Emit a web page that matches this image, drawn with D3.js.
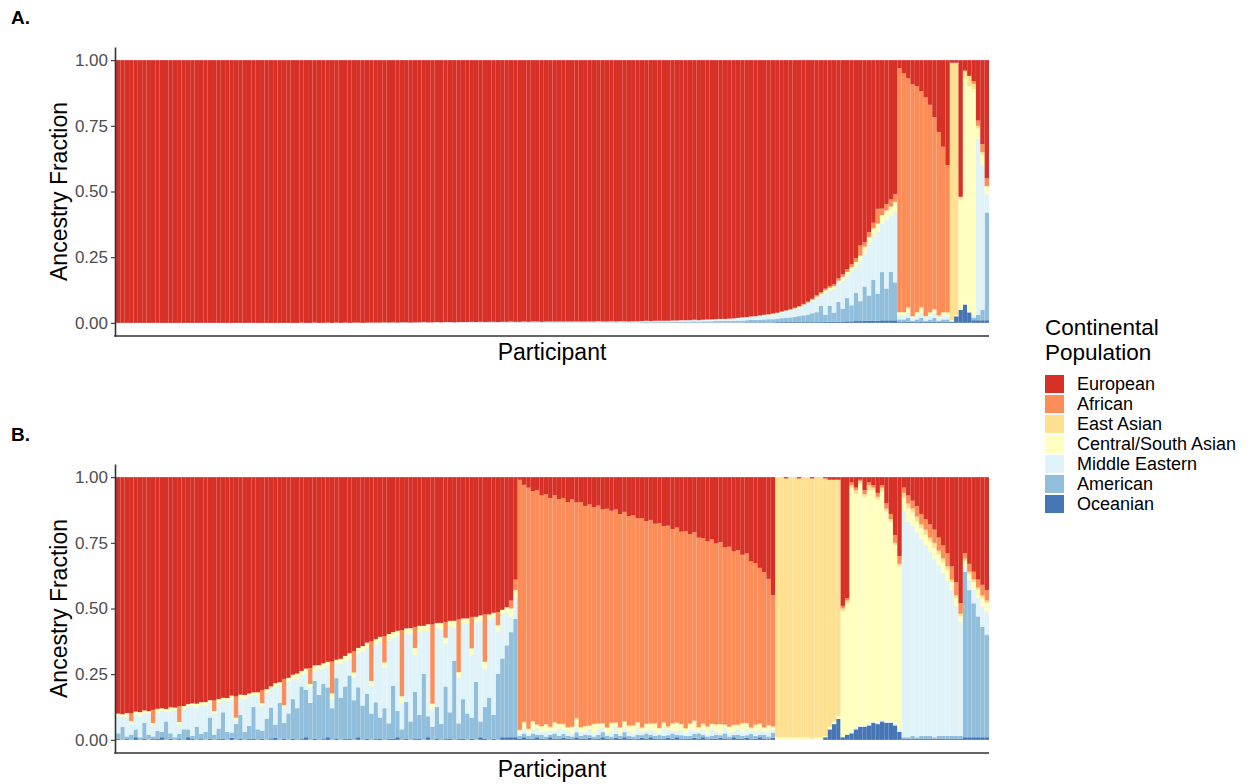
<!DOCTYPE html>
<html><head><meta charset="utf-8">
<script src="https://cdn.jsdelivr.net/npm/d3@7"></script>
<style>
html,body{margin:0;padding:0;background:#fff;}
text{font-family:"Liberation Sans",Arial,Helvetica,sans-serif;}
</style></head>
<body><svg id="chart" width="1253" height="784"></svg>
<script>
// ---------- DATA (percent of ancestry per participant) ----------
const populations = ["European","African","East Asian","Central/South Asian","Middle Eastern","American","Oceanian"];
const popColors = ["#d73027","#fc8d59","#fee090","#ffffbf","#e0f3f8","#91bfdb","#4575b4"];
const yTicks = [0, 0.25, 0.5, 0.75, 1];
const panelLabels = ["A.", "B."];

// Panel A
const aEuropean = [
100,100,100,100,100,100,100,100,100,100,100,100,100,100,100,100,100,100,100,100,
100,100,100,100,100,100,100,100,100,100,100,100,100,100,100,100,100,100,100,100,
100,100,99.9,100,100,99.9,100,100,99.9,100,99.9,100,99.9,100,99.9,99.9,100,99.9,99.9,99.9,
99.9,99.8,99.9,99.8,99.9,99.8,99.8,99.9,99.8,99.8,99.7,99.8,99.8,99.7,99.8,99.7,99.7,99.8,99.7,99.7,
99.7,99.6,99.7,99.6,99.7,99.6,99.6,99.7,99.6,99.6,99.5,99.6,99.6,99.5,99.6,99.5,99.5,99.6,99.5,99.5,
99.5,99.4,99.5,99.4,99.5,99.4,99.4,99.5,99.4,99.4,99.3,99.4,99.4,99.3,99.4,99.3,99.3,99.4,99.3,99.3,
99.3,99.2,99.3,99.2,99.2,99.1,99.2,99.1,99.1,99.0,99.1,99.0,98.9,99.0,98.9,98.8,98.8,98.7,98.6,98.6,
98.5,98.4,98.3,98.2,98.1,97.9,97.8,97.6,97.4,97.2,97.0,96.7,96.4,96.0,95.6,95.1,94.5,93.8,93.0,92.0,
90.5,89.4,88.3,87.4,86.5,84.9,83.1,81.0,79.0,77.0,74.3,71.5,67.8,64.0,60.5,58.5,56.5,54.8,53.0,3,
5,7,9,10,12,14,17,22,27,33,40,1,1,52,4,6,8,23,32,45];
const aAfrican = [
0,0,0,0,0,0,0,0,0,0,0,0,0,0,0,0,0,0,0,0,
0,0,0,0,0,0,0,0,0,0,0,0,0,0,0,0,0,0,0,0,
0,0,0,0,0,0,0,0,0,0,0,0,0,0,0,0,0,0,0,0,
0,0,0,0,0,0,0,0,0,0,0,0,0,0,0,0,0,0,0,0,
0,0,0,0,0,0,0,0,0,0,0,0,0,0,0,0,0,0,0,0,
0,0,0,0,0,0,0,0,0,0,0,0,0,0,0,0,0,0,0,0,
0,0,0,0,0,0,0,0,0,0,0,0,0,0,0,0,0,0,0,0,
0,0,0,.1,0,.1,.1,0,.1,.1,.2,.1,.2,.2,.3,.2,.3,.3,.4,.4,
.5,.6,.6,.7,.8,.9,1,1.1,1.2,1.4,4,1.7,2,2.2,6,2.5,2.6,2.8,3,92,
90,88,86,86,83,82,79,74,69,63,56,0,0,0,0,0,1,2,3,3];
const aEastAsian = [
0,0,0,0,0,0,0,0,0,0,0,0,0,0,0,0,0,0,0,0,
0,0,0,0,0,0,0,0,0,0,0,0,0,0,0,0,0,0,0,0,
0,0,0,0,0,0,0,0,0,0,0,0,0,0,0,0,0,0,0,0,
0,0,0,0,0,0,0,0,0,0,0,0,0,0,0,0,0,0,0,0,
0,0,0,0,0,0,0,0,0,0,0,0,0,0,0,0,0,0,0,0,
0,0,0,0,0,0,0,0,0,0,0,0,0,0,0,0,0,0,0,0,
0,0,0,0,0,0,0,0,0,0,0,0,0,0,0,0,0,0,0,0,
0,0,0,0,0,0,0,0,0,0,0,0,0,0,0,0,0,0,0,0,
0,0,0,0,0,0,0,0,0,0,0,0,0,0,0,0,0,0,0,.3,
.3,.5,.2,.3,.5,.3,.2,.3,.5,.3,.3,98,96,1,3,4,2,1,1,0];
const aCentralSouthAsian = [
0,0,0,0,0,0,0,0,0,0,0,0,0,0,0,0,0,0,0,0,
0,0,0,0,0,0,0,0,0,0,0,0,0,0,0,0,0,0,0,0,
0,0,0,0,0,0,0,0,0,0,0,0,0,0,0,0,0,0,0,0,
0,0,0,0,0,0,0,0,0,0,0,0,0,0,0,0,0,0,0,0,
0,0,0,0,0,0,0,0,0,0,0,0,0,0,0,0,0,0,0,0,
0,0,0,0,0,0,0,0,0,0,0,0,0,0,0,0,0,0,0,0,
0,0,0,0,0,0,0,0,0,0,0,0,0,0,0,0,0,0,0,0,
0,0,.1,.1,.1,.1,.1,.2,.2,.2,.2,.2,.3,.3,.3,.4,.4,.5,.5,.6,
.7,.8,.9,1,1.1,1.2,1.4,1.6,1.8,2,2.3,2.6,3,3.3,3.5,3.5,3.6,3.7,3.8,1,
1,1.5,.5,1,1.5,.5,1,1,.5,1,1,.5,.5,42,86,86,86,4,4,3];
const aMiddleEastern = [
0,0,0,0,0,0,0,0,0,0,0,0,0,0,0,0,0,0,0,0,
0,0,0,0,0,0,0,0,0,0,0,0,0,0,0,0,0,0,0,0,
0,0,.1,0,0,.1,0,0,.1,0,.1,0,.1,0,.1,.1,0,.1,.1,.1,
.1,.1,.1,.1,.1,.1,.1,.1,.1,.1,.2,.1,.1,.2,.1,.2,.2,.1,.2,.2,
.2,.2,.2,.2,.2,.2,.2,.2,.2,.2,.3,.2,.2,.3,.2,.3,.3,.2,.3,.3,
.3,.3,.3,.3,.3,.3,.3,.3,.3,.3,.4,.3,.3,.4,.3,.4,.4,.3,.4,.4,
.4,.5,.4,.5,.5,.5,.5,.5,.5,.6,.5,.6,.6,.6,.6,.7,.7,.7,.8,.8,
.9,.9,1.0,1.1,1.1,1.2,1.3,1.4,1.5,1.6,1.8,2.0,2.1,2.4,2.6,2.9,3.2,3.6,4.1,4.6,
5.3,4,8.5,6,9,7,11,8.5,13,10,16,13,20,17,25,19,27,22,28,1.5,
1.5,2,1,1.5,2,1,1.5,2,1,1.5,1.5,0,0,0,0,0,1,67,55,7];
const aAmerican = [
0,0,0,0,0,0,0,0,0,0,0,0,0,0,0,0,0,0,0,0,
0,0,0,0,0,0,0,0,0,0,0,0,0,0,0,0,0,0,0,0,
0,0,0,0,0,0,0,0,0,0,0,0,0,0,0,0,0,0,0,0,
0,.1,0,.1,0,.1,.1,0,.1,.1,.1,.1,.1,.1,.1,.1,.1,.1,.1,.1,
.1,.2,.1,.2,.1,.2,.2,.1,.2,.2,.2,.2,.2,.2,.2,.2,.2,.2,.2,.2,
.2,.2,.2,.2,.2,.2,.2,.2,.2,.2,.2,.2,.2,.2,.2,.2,.2,.2,.2,.2,
.3,.3,.3,.3,.3,.3,.3,.4,.4,.4,.4,.4,.5,.4,.5,.5,.5,.6,.6,.6,
.6,.7,.7,.7,.8,.9,.9,1,1.1,1.2,1.2,1.3,1.5,1.6,1.8,2,2.3,2.6,2.9,3.4,
3.8,6.2,2.8,6.2,3.6,7.7,5,9,6.2,11,8,13.5,10,16,11,19,12.5,19,15,1,
1,1.5,.5,1,1.5,.5,1,1.5,.5,1,1,0,0,0,0,0,1,2,4,41];
const aOceanian = [
0,0,0,0,0,0,0,0,0,0,0,0,0,0,0,0,0,0,0,0,
0,0,0,0,0,0,0,0,0,0,0,0,0,0,0,0,0,0,0,0,
0,0,0,0,0,0,0,0,0,0,0,0,0,0,0,0,0,0,0,0,
0,0,0,0,0,0,0,0,0,0,0,0,0,0,0,0,0,0,0,0,
0,0,0,0,0,0,0,0,0,0,0,0,0,0,0,0,0,0,0,0,
0,0,0,0,0,0,0,0,0,0,0,0,0,0,0,0,0,0,0,0,
0,0,0,0,0,0,0,0,0,0,.1,0,.1,0,.1,.1,.1,.1,.1,.1,
.1,.1,.1,.1,.2,.2,.2,.2,.2,.2,.2,.3,.3,.3,.3,.3,.3,.3,.3,.3,
.3,.3,.4,.4,.4,.5,.5,.6,.6,.7,.7,.8,.8,.9,.9,1,1,1,1,.3,
.3,.5,.3,.3,.5,.3,.3,.5,.3,.3,.3,.5,2.5,5,7,4,1,1,1,1];

// Panel B
const bEuropean = [
90,89.8,89.6,89.4,89.2,89,88.8,88.6,88.4,88.2,88,87.8,87.6,87.3,87,86.7,86.4,86.1,85.8,85.5,
85.2,84.9,84.6,84.3,84,83.7,83.4,83.1,82.8,82.5,82.2,81.9,81.5,81,80.3,79.5,78.6,77.7,76.8,76,
75.2,74.4,73.6,72.9,72.3,71.7,71.2,70.7,70.3,69.9,69.5,68.8,67.9,67,66,65,64,63,62.2,61.5,
60.8,60.2,59.6,59,58.5,58,57.6,57.2,56.9,56.6,56.3,56,55.8,55.5,55.2,55,54.7,54.4,54.1,53.8,
53.5,53.2,52.9,52.6,52.3,52,51.6,51.1,50.5,49.5,47,39,1,3,4,5.5,5,7,6.5,8,
7,8.5,8,9.5,8.5,10,9.5,11,10.5,11.5,11,12.5,12,13,12.5,14,13.5,15,14.5,16,
15.5,17,16.5,18,17.5,19,18.5,20,19.5,21,20.5,22,21.5,23,23.5,24.5,24,25.5,25,27,
26.5,28.5,28,30,29.5,32,33,35,36,39,45,0,0,.5,0,0,.5,0,0,.5,
0,0,.5,1,1,1,49,46,2,4,1,5,2,3,6,3,10,14,22,30,
4,7,9,11,14,16,18,20,23,26,29,34,40,48,29,33,36,39,41,43];
const bAfrican = [
0,0,0,3,0,0,0,0,5,0,0,0,0,0,6,0,0,0,0,0,
0,0,4,0,0,0,0,8,0,0,0,0,0,5,0,0,0,0,10,0,
0,0,0,0,6,0,0,0,0,12,0,0,0,0,8,0,0,0,15,0,
0,10,0,0,0,25,0,0,8,0,0,0,30,0,0,6,0,0,20,0,
0,12,0,0,18,0,0,5,0,0,3,4,94,92,91,89.5,90,88,88.5,87,
88,86.5,87,85.5,86.5,85,85.5,84,84.5,83.5,84,82.5,83,82,82.5,81,81.5,80,80.5,79,
79.5,78,78.5,77,77.5,76,76.5,75,75.5,74,74.5,73,73.5,72,71.5,70.5,71,69.5,70,68,
68.5,66.5,67,65,65.5,63,62,60,59,56,50,0,0,0,0,0,0,0,0,0,
0,0,0,0,0,0,1,1,1,1,.5,1.5,1,1,1.5,1,2,2,3,3,
2,3,3,4,4,4,5,5,5,5,5,5,5,4,2,3,3,3,4,4];
const bEastAsian = [
0,0,0,0,0,0,0,0,0,0,0,0,0,0,0,0,0,0,0,0,
0,0,0,0,0,0,0,0,0,0,0,0,0,0,0,0,0,0,0,0,
0,0,0,0,0,0,0,0,0,0,0,0,0,0,0,0,0,0,0,0,
0,0,0,0,0,0,0,0,0,0,0,0,0,0,0,0,0,0,0,0,
0,0,0,0,0,0,0,0,0,0,0,0,.3,.5,.2,.3,.4,.2,.3,.5,
.3,.2,.4,.3,.2,.5,.3,.3,.2,.4,.3,.5,.2,.3,.4,.3,.2,.5,.3,.3,
.4,.2,.3,.5,.2,.3,.4,.3,.2,.3,.5,.3,.2,.4,.3,.3,.2,.5,.3,.4,
.2,.3,.3,.5,.2,.4,.3,.3,.2,.4,.3,99,99,98.5,99,99,98.5,99,99,98.5,
99,98.5,98,94,92,90,1,1,1,1.5,1,1,2,1,1,1.5,1,1,1,1,
2,2,1.5,2,1.5,2,1.5,2,1.5,1.5,1.5,1,1,1,1,1,1,1,1,1];
const bCentralSouthAsian = [
1,1,1.5,1,1,1.5,1,1,1,1.5,1,1,1.5,1,1,1.5,1,1,1.5,1,
1.5,1,1,1.5,1,1,1.5,1,1,1.5,1,1,1.5,1,1.5,1,1.5,1,1,1.5,
1.5,2,1.5,2,1.5,2,1.5,2,1.5,2,1.5,2,2,2,2,2,2,2,2,2,
2,2,2.5,2,2,2.5,2,2,2.5,2,2,2.5,2,2,2.5,2,2,2.5,2,2,
2,2.5,2,2,2.5,2,2,2.5,2,2,3,3,1,2,1.5,3,1,2,2.5,1,
3,1.5,2,1,2.5,3,1.5,2,1,3.5,2,1.5,2,3,1,2,2.5,1.5,3,2,
1,2.5,2,3,1.5,2,1,2.5,3,2,1.5,2,3.5,1,2,2.5,1.5,2,3,1,
2,2.5,1.5,3,2,1,2,2.5,1.5,2,1,1,1,1,1,1,1,1,1,.5,
1,1,.5,1,1,1,48,50,93,89,92,87,89,88,85,87,80,76,68,62,
5,5,5,4,4,4,4,4,4,4,4,3,3,2,2,2,3,3,3,3];
const bMiddleEastern = [
6.5,3.7,7.4,4.1,5.8,8,3.7,7.9,4.1,6.8,8,3.7,8.4,10.2,3.5,7.3,8.6,11.4,7.2,11,
9.8,5.6,7.9,9.7,4.5,11.8,12.6,1.4,6.7,12.5,11.3,4.6,12.5,9.5,9.7,7,14.4,6.8,5.7,12,
7.8,11.1,4.4,6.1,5.7,3.8,9.8,5.8,8.2,3.6,5.5,12.7,9.6,6.5,8.5,13,20.5,17.5,10.3,22,
28.7,15.3,31.4,18.5,28.5,10,25.9,33.3,14.1,31.9,16.2,32.5,6.7,30,35.8,16.5,32.8,12.6,17.4,28.7,
34,23.8,22.6,38.4,14.7,29.5,36.9,15.9,16.5,12.5,6,8,1,2,1,1.5,2.5,1,2,1.5,
1,3,1.5,2,1,2,1.5,1,2.5,1,2,1.5,1,2,3,1,1.5,2,1,2.5,
1.5,1,2,1.5,1,3,2,1,1.5,2,1,2.5,1.5,1,2,1,3,1.5,1,2,
1.5,1,2,1.5,2.5,1,2,1.5,1,2,1,0,0,0,0,0,0,0,0,0,
0,0,0,0,0,0,0,0,.5,.5,.5,.5,.5,.5,.5,.5,.5,.5,.5,1,
86,82,80,78,75,72.5,70,68,65,62,59,55.5,49.5,43.5,2,4,5,7,8,9];
const bAmerican = [
2,5,1,2,3,1,6,2,1,3,2,7,2,1,2,4,3,1,5,2,
3,8,2,4,10,3,2,6,9,3,5,12,4,3,8,12,5,14,6,10,
15,12,20,18,14,22,17,21,19,12,23,16,20,24,15,19,13,17,10,14,
8,12,6,20,10,4,14,7,18,9,25,8,5,12,6,20,10,30,6,15,
10,8,22,6,12,16,9,25,30,35,40,45,1,1.5,1,2,1,1.5,1,1,
2,1,1.5,1,1,2,1,1.5,1,1,1.5,2,1,1,1.5,1,2,1,1,1.5,
1,2,1,1,1.5,1,1,2,1,1.5,1,1,1.5,2,1,1,1,1.5,1,2,
1,1,1.5,1,1,2,1,1,1.5,1,2,0,0,0,0,0,0,0,0,0,
0,0,0,0,0,0,0,0,0,0,0,0,0,0,0,0,0,0,0,0,
.5,.5,1,.5,1,1,1,.5,1,1,1,1,1,1,63,56,51,46,42,39];
const bOceanian = [
.5,0,.3,0,1,0,.5,0,.3,.5,1,0,.5,0,.3,0,1,.5,0,.3,
0,.5,0,.3,.5,0,.8,0,.5,0,.3,.5,0,.5,0,.3,.8,0,.5,0,
.5,0,.3,1,0,.5,0,.3,1,0,.5,0,.3,.5,0,1,0,.5,0,.3,
.5,0,.3,.5,1,0,.5,0,.3,.5,0,1,0,.5,0,.3,.5,0,.3,.5,
0,.5,0,1,.5,0,.5,0,1,1,1,1,.5,1,.5,.5,1,.5,.3,1,
.5,.5,.8,.5,.3,1,.5,.5,.8,.3,.5,1,.5,.3,.8,.5,1,.5,.3,.5,
.8,.5,1,.5,.3,.5,.8,.5,1,.3,.5,.5,.8,.5,1,.3,.5,.5,.8,.5,
.3,1,.5,.5,.8,.3,.5,1,.5,.3,.8,0,0,0,0,0,0,0,0,0,
0,0,1,4,6,8,1,2,2.5,4,5,5,5.5,6.5,6,7,6.5,6.5,5.5,3,
.5,.5,.5,.5,.5,.5,.5,.5,.5,.5,.5,.5,.5,.5,1,1,1,1,1,1];

// ---------- BUILD ----------
const panelsData = [
  {European:aEuropean, African:aAfrican, "East Asian":aEastAsian, "Central/South Asian":aCentralSouthAsian,
   "Middle Eastern":aMiddleEastern, American:aAmerican, Oceanian:aOceanian},
  {European:bEuropean, African:bAfrican, "East Asian":bEastAsian, "Central/South Asian":bCentralSouthAsian,
   "Middle Eastern":bMiddleEastern, American:bAmerican, Oceanian:bOceanian}
];
const layout = [
  {top:47, bottom:336, labelY:24, xTitleY:360},
  {top:464, bottom:753, labelY:441, xTitleY:777}
];
const xLeft = 115, xRight = 989;
const color = d3.scaleOrdinal().domain(populations).range(popColors);
const stackKeys = populations.slice().reverse(); // Oceanian at bottom, European on top

const svg = d3.select("#chart");

panelsData.forEach((pd, pi) => {
  const L = layout[pi];
  const n = pd.European.length;
  const rows = d3.range(n).map(i => {
    const r = {id:i};
    populations.forEach(p => r[p] = pd[p][i]);
    return r;
  });
  const series = d3.stack().keys(stackKeys).offset(d3.stackOffsetExpand)(rows);
  const x = d3.scaleBand().domain(d3.range(n)).range([xLeft + 1, xRight]).padding(0);
  const y = d3.scaleLinear().domain([-0.05, 1.05]).range([L.bottom, L.top]);

  const g = svg.append("g");
  g.selectAll("g.layer").data(series).join("g")
    .attr("class","layer")
    .attr("fill", s => color(s.key))
    .selectAll("rect").data(s => s).join("rect")
      .attr("x", (d,i) => x(i))
      .attr("width", x.bandwidth())
      .attr("y", d => y(d[1]))
      .attr("height", d => Math.max(0, y(d[0]) - y(d[1])));

  // y axis
  const ya = g.append("g").attr("transform", `translate(${xLeft},0)`)
    .call(d3.axisLeft(y).tickValues(yTicks).tickFormat(d3.format(".2f")).tickSize(4).tickSizeOuter(0).tickPadding(3));
  ya.select(".domain").attr("stroke","#333").attr("stroke-width",1.6);
  ya.selectAll(".tick line").attr("stroke","#333").attr("stroke-width",1.1);
  ya.selectAll(".tick text").attr("fill","#4d4d4d").style("font-size","17px")
    .style("font-family",'"Liberation Sans",Arial,sans-serif');

  // x axis line
  g.append("line").attr("x1", xLeft - 0.8).attr("x2", xRight).attr("y1", L.bottom).attr("y2", L.bottom)
    .attr("stroke","#333").attr("stroke-width",1.6);

  // titles
  g.append("text").attr("transform", `translate(67,${(L.top+L.bottom)/2}) rotate(-90)`)
    .attr("text-anchor","middle").style("font-size","23px").attr("fill","#000").text("Ancestry Fraction");
  g.append("text").attr("x", (xLeft+xRight)/2).attr("y", L.xTitleY)
    .attr("text-anchor","middle").style("font-size","23px").attr("fill","#000").text("Participant");
  g.append("text").attr("x", 11).attr("y", L.labelY)
    .style("font-size","19px").style("font-weight","bold").attr("fill","#000").text(panelLabels[pi]);
});

// legend
const lg = svg.append("g");
lg.append("text").attr("x",1045).attr("y",335).style("font-size","22.5px").attr("fill","#000").text("Continental");
lg.append("text").attr("x",1045).attr("y",360).style("font-size","22.5px").attr("fill","#000").text("Population");
populations.forEach((p,k) => {
  lg.append("rect").attr("x",1045).attr("y",375 + 20*k).attr("width",19).attr("height",18).attr("fill",color(p));
  lg.append("text").attr("x",1077).attr("y",384 + 20*k).attr("dominant-baseline","central")
    .style("font-size","18px").attr("fill","#000").text(p);
});
</script></body></html>
